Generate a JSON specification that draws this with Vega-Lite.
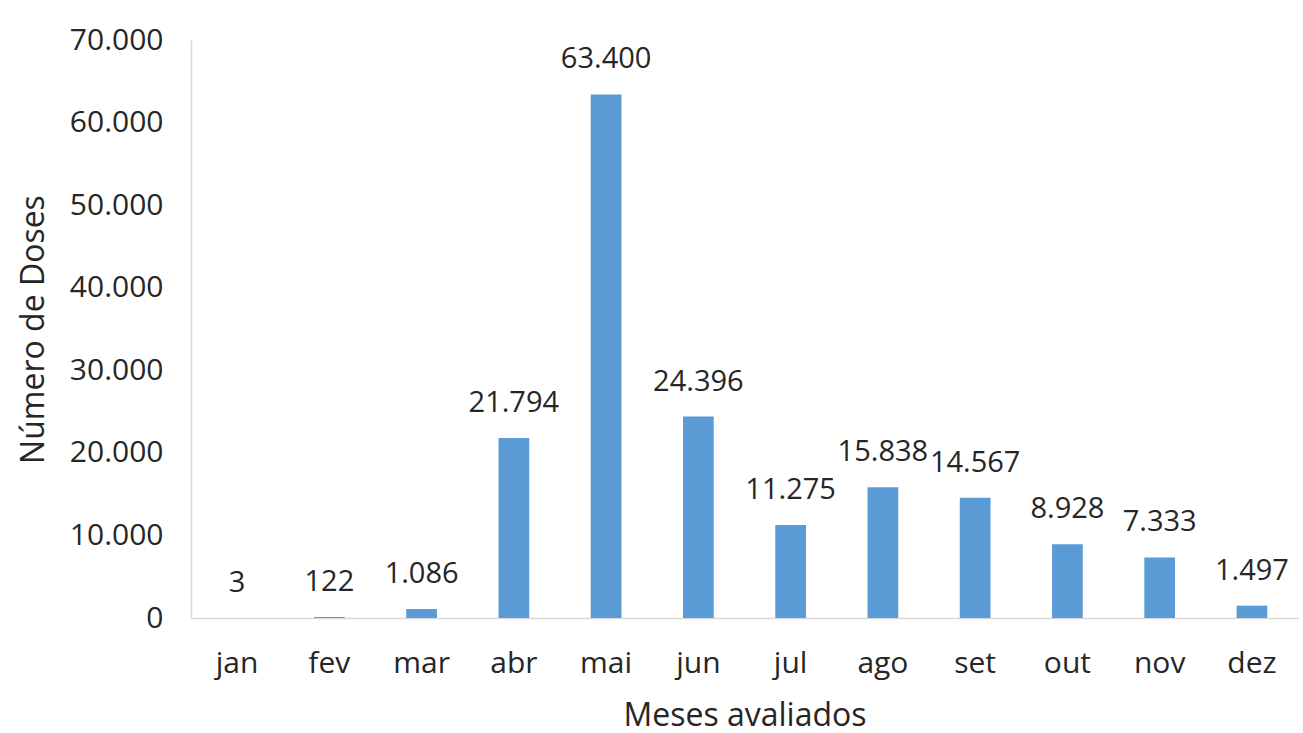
{
  "$schema": "https://vega.github.io/schema/vega-lite/v6.json",
  "autosize": {"type": "none"},
  "padding": {"left": 191, "top": 40, "right": 5, "bottom": 115},
  "width": 1107,
  "height": 578,
  "background": "white",
  "config": {
    "locale": {"number": {"decimal": ",", "thousands": ".", "grouping": [3], "currency": ["R$", ""]}},
    "view": {"stroke": null},
    "font": "Open Sans"
  },
  "data": {
    "values": [
      {"mes": "jan", "doses": 3},
      {"mes": "fev", "doses": 122},
      {"mes": "mar", "doses": 1086},
      {"mes": "abr", "doses": 21794},
      {"mes": "mai", "doses": 63400},
      {"mes": "jun", "doses": 24396},
      {"mes": "jul", "doses": 11275},
      {"mes": "ago", "doses": 15838},
      {"mes": "set", "doses": 14567},
      {"mes": "out", "doses": 8928},
      {"mes": "nov", "doses": 7333},
      {"mes": "dez", "doses": 1497}
    ]
  },
  "encoding": {
    "x": {
      "field": "mes",
      "type": "nominal",
      "sort": null,
      "scale": {"paddingInner": 0.667, "paddingOuter": 0.333},
      "axis": {
        "title": "Meses avaliados",
        "titleFont": "Open Sans",
        "titleFontSize": 32,
        "titleFontWeight": "normal",
        "titleColor": "#262626",
        "titlePadding": 22,
        "labelFont": "Open Sans",
        "labelFontSize": 30,
        "labelColor": "#262626",
        "labelAngle": 0,
        "labelPadding": 30,
        "ticks": false,
        "domainColor": "#d9d9d9",
        "domainWidth": 1.5
      }
    },
    "y": {
      "field": "doses",
      "type": "quantitative",
      "scale": {"domain": [0, 70000], "nice": false},
      "axis": {
        "title": "Número de Doses",
        "titleFont": "Open Sans",
        "titleFontSize": 32,
        "titleFontWeight": 500,
        "titleColor": "#262626",
        "titlePadding": 19,
        "labelFont": "Open Sans",
        "labelFontSize": 30,
        "labelColor": "#262626",
        "labelPadding": 28,
        "format": ",d",
        "values": [0, 10000, 20000, 30000, 40000, 50000, 60000, 70000],
        "ticks": false,
        "grid": false,
        "domainColor": "#d9d9d9",
        "domainWidth": 1.5
      }
    }
  },
  "layer": [
    {"mark": {"type": "bar", "color": "#5b9bd5"}},
    {
      "mark": {"type": "text", "baseline": "middle", "dy": -35, "fontSize": 29, "font": "Open Sans", "color": "#262626"},
      "encoding": {"text": {"field": "doses", "type": "quantitative", "format": ",d"}}
    }
  ]
}
